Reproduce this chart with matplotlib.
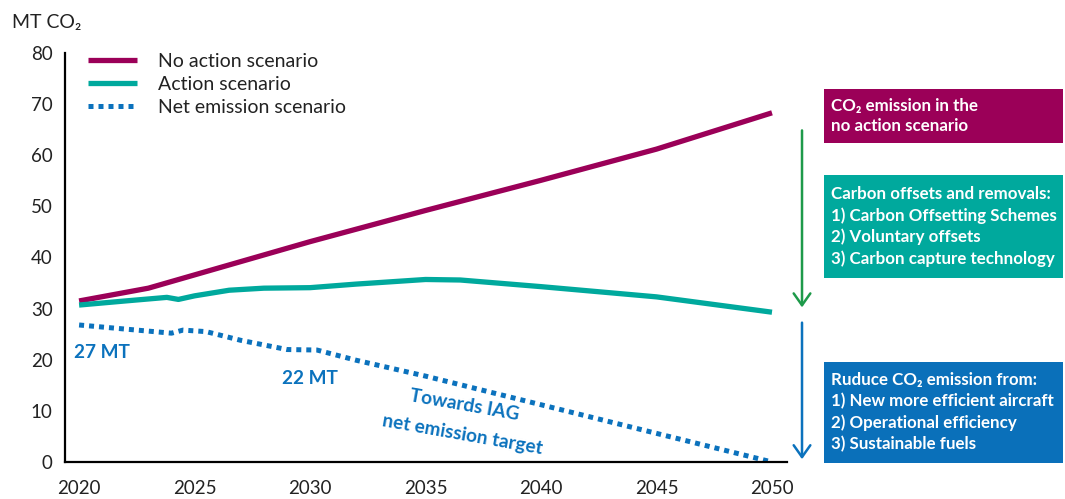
import matplotlib
matplotlib.use('Agg')
import matplotlib.pyplot as plt
from matplotlib.patches import Rectangle

plt.rcParams['font.family'] = ['Lato', 'DejaVu Sans']

W, H = 1065, 499

# emission scenarios, MT CO2
no_action_years = [2020, 2023, 2030, 2035, 2040, 2045, 2050]
no_action = [31.5, 34.0, 43.1, 49.2, 55.1, 61.2, 68.3]

action_years = [2020, 2022, 2023.8, 2024.3, 2025, 2026.5, 2028, 2030, 2032, 2035, 2036.5, 2040, 2045, 2050]
action = [30.7, 31.5, 32.2, 31.8, 32.5, 33.6, 34.0, 34.1, 34.8, 35.7, 35.6, 34.3, 32.3, 29.3]

net_years = [2020, 2022, 2024, 2024.5, 2025.5, 2027, 2029, 2030.3, 2032, 2035, 2040, 2045, 2050]
net = [26.8, 26.0, 25.2, 25.8, 25.5, 23.8, 22.0, 21.9, 19.9, 16.8, 11.2, 5.6, 0.0]

xticks = [2020, 2025, 2030, 2035, 2040, 2045, 2050]
yticks = [0, 10, 20, 30, 40, 50, 60, 70, 80]

purple = '#9B0058'
teal = '#00A99D'
blue = '#0B72BD'
green = '#1E9A4A'

fig = plt.figure(figsize=(W / 100, H / 100), dpi=100)
ax = fig.add_axes([65 / W, 1 - 462 / H, (787 - 65) / W, (462 - 53) / H])

ax.plot(no_action_years, no_action, color=purple, lw=3.8, label='No action scenario', solid_capstyle='butt')
ax.plot(action_years, action, color=teal, lw=3.8, label='Action scenario', solid_capstyle='butt')
ax.plot(net_years, net, color=blue, lw=3.6, dashes=(1, 1), label='Net emission scenario')

ax.set_xlim(2019.39, 2050.65)
ax.set_ylim(0, 80)
ax.set_xticks(xticks)
ax.set_yticks(yticks)
ax.tick_params(axis='x', length=0, pad=13, labelsize=13.5, colors='#222222')
ax.tick_params(axis='y', length=0, pad=9, labelsize=13.5, colors='#222222')
for side in ['top', 'right']:
    ax.spines[side].set_visible(False)
for side in ['left', 'bottom']:
    ax.spines[side].set_linewidth(1.6)
    ax.spines[side].set_color('black')

fig.text(12 / W, 1 - 22 / H, 'MT CO₂', fontsize=14, va='center', ha='left', color='#222222')

ax.legend(loc='upper left', bbox_to_anchor=(88 / W, 1 - 53 / H), bbox_transform=fig.transFigure,
          frameon=False, fontsize=14, borderpad=0, borderaxespad=0, handlelength=2.5,
          handletextpad=1.1, labelspacing=0.3, labelcolor='#222222')

# labels along the net emission line
ax.text(2019.8, 21.5, '27 MT', color=blue, fontsize=13.7, fontweight='bold', ha='left', va='center')
ax.text(2030.0, 16.3, '22 MT', color=blue, fontsize=13.7, fontweight='bold', ha='center', va='center')
ax.text(2036.7, 11.1, 'Towards IAG', color=blue, fontsize=13.7, fontweight='bold',
        ha='center', va='center', rotation=-10, rotation_mode='anchor')
ax.text(2036.6, 5.4, 'net emission target', color=blue, fontsize=13.7, fontweight='bold',
        ha='center', va='center', rotation=-10, rotation_mode='anchor')

# gap arrows on the right
head = '->,head_length=0.85,head_width=0.6'
ax.annotate('', xy=(2051.3, 29.7), xytext=(2051.3, 65.4), annotation_clip=False,
            arrowprops=dict(arrowstyle=head, color=green, lw=1.8))
ax.annotate('', xy=(2051.3, 0.0), xytext=(2051.3, 27.8), annotation_clip=False,
            arrowprops=dict(arrowstyle=head, color=blue, lw=1.8))

boxes = [
    (89, 143, purple, 'CO₂ emission in the\nno action scenario'),
    (175, 278, teal, 'Carbon offsets and removals:\n1) Carbon Offsetting Schemes\n2) Voluntary offsets\n3) Carbon capture technology'),
    (362, 463, '#0A70BA', 'Ruduce CO₂ emission from:\n1) New more efficient aircraft\n2) Operational efficiency\n3) Sustainable fuels'),
]
for top, bottom, color, text in boxes:
    fig.add_artist(Rectangle((824 / W, 1 - bottom / H), (1063 - 824) / W, (bottom - top) / H,
                             transform=fig.transFigure, facecolor=color, edgecolor='none'))
    fig.text(831 / W, 1 - (top + bottom) / 2 / H, text, color='white', fontsize=12.2, fontweight='bold',
             ha='left', va='center', linespacing=1.38)

fig.savefig('out.png', dpi=100)
